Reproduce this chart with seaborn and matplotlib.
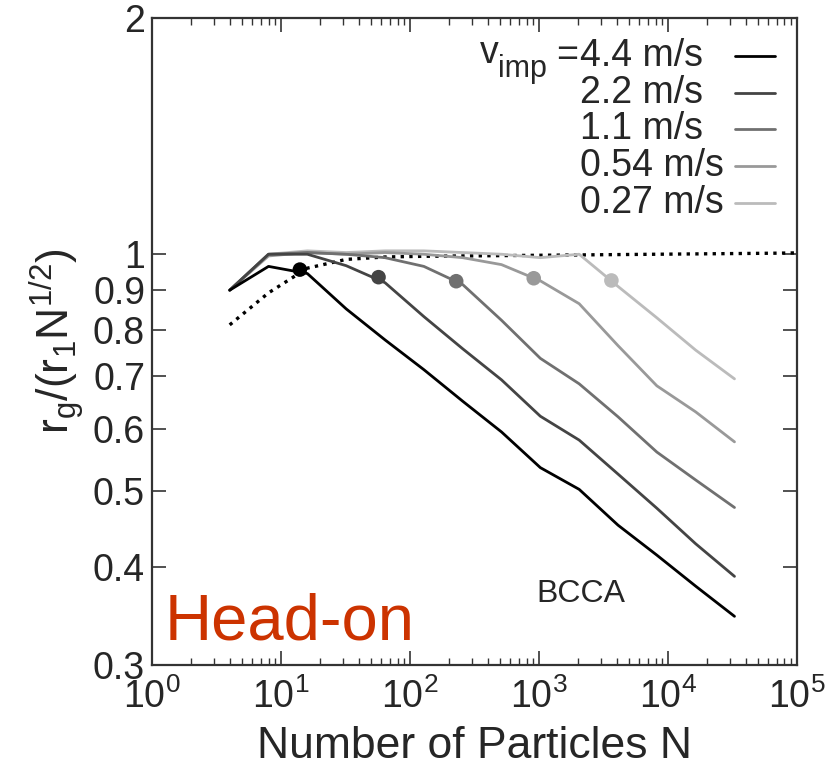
import numpy as np
import pandas as pd
import matplotlib
matplotlib.use('Agg')
import matplotlib.pyplot as plt
import matplotlib.ticker as mticker
import seaborn as sns

# number of particles in the aggregates
n_particles = [4, 8, 16, 32, 64, 128, 256, 512, 1024, 2048, 4096, 8192, 16384, 32768]

# r_g / (r_1 N^1/2) for each impact velocity
ratio_44 = [0.90, 0.965, 0.945, 0.852, 0.778, 0.713, 0.650, 0.594, 0.535, 0.502, 0.452, 0.414, 0.378, 0.346]
ratio_22 = [0.90, 1.00, 1.00, 0.967, 0.92, 0.833, 0.758, 0.692, 0.622, 0.580, 0.525, 0.475, 0.428, 0.389]
ratio_11 = [0.90, 1.00, 1.005, 1.00, 0.99, 0.965, 0.915, 0.824, 0.737, 0.684, 0.621, 0.560, 0.516, 0.476]
ratio_054 = [0.90, 0.995, 1.005, 1.00, 1.005, 1.00, 0.99, 0.97, 0.925, 0.865, 0.765, 0.680, 0.630, 0.577]
ratio_027 = [0.90, 1.00, 1.01, 1.005, 1.01, 1.01, 1.005, 1.00, 0.99, 1.00, 0.91, 0.83, 0.755, 0.694]

velocity_labels = ['4.4 m/s', '2.2 m/s', '1.1 m/s', '0.54 m/s', '0.27 m/s']
line_colors = ['#000000', '#444444', '#707070', '#999999', '#bbbbbb']

# BCCA reference (dotted)
bcca_n = [4, 8, 16, 32, 64, 128, 256, 512, 1024, 2048, 4096, 8192, 16384, 32768, 65536, 100000]
bcca_ratio = [0.813, 0.893, 0.96, 0.985, 0.992, 0.994, 0.995, 0.996, 0.997, 0.998, 0.999, 1.0, 1.001, 1.002, 1.003, 1.004]

# critical points (dots)
crit_n = [14, 57, 228, 910, 3640]
crit_ratio = [0.956, 0.935, 0.924, 0.932, 0.926]

all_ratios = [ratio_44, ratio_22, ratio_11, ratio_054, ratio_027]
df = pd.concat([pd.DataFrame({'N': n_particles, 'ratio': r, 'v': lab})
                for r, lab in zip(all_ratios, velocity_labels)])
crit_df = pd.DataFrame({'N': crit_n, 'ratio': crit_ratio, 'v': velocity_labels})
bcca_df = pd.DataFrame({'N': bcca_n, 'ratio': bcca_ratio})

sns.set_style('ticks')
plt.rcParams['font.family'] = ['Liberation Sans', 'DejaVu Sans']
plt.rcParams['mathtext.default'] = 'regular'

fig = plt.figure(figsize=(8.29, 7.72), dpi=100)
ax = fig.add_axes([0.1834, 0.1386, 0.778, 0.8384])

palette = dict(zip(velocity_labels, line_colors))
sns.lineplot(data=bcca_df, x='N', y='ratio', color='black', linewidth=2.4,
             linestyle=(0, (1, 1.6)), ax=ax, estimator=None, sort=False)
sns.lineplot(data=df, x='N', y='ratio', hue='v', hue_order=velocity_labels[::-1],
             palette=palette, linewidth=2.0, ax=ax, legend=False, estimator=None, sort=False)
sns.scatterplot(data=crit_df, x='N', y='ratio', hue='v', palette=palette, s=110,
                edgecolor='none', ax=ax, legend=False, zorder=5)

ax.set_xscale('log')
ax.set_yscale('log')
ax.set_xlim(1, 1e5)
ax.set_ylim(0.3, 2)

ax.xaxis.set_major_locator(mticker.LogLocator(base=10, numticks=10))
ax.xaxis.set_minor_locator(mticker.LogLocator(base=10, subs=np.arange(2, 10), numticks=20))
ax.xaxis.set_minor_formatter(mticker.NullFormatter())
yticks = [0.3, 0.4, 0.5, 0.6, 0.7, 0.8, 0.9, 1, 2]
ax.yaxis.set_major_locator(mticker.FixedLocator(yticks))
ax.yaxis.set_major_formatter(mticker.FixedFormatter(['0.3', '0.4', '0.5', '0.6', '0.7', '0.8', '0.9', '1', '2']))
ax.yaxis.set_minor_locator(mticker.NullLocator())

ax.tick_params(which='both', direction='in', top=True, right=True, labelsize=27, color='#333333')
ax.tick_params(which='major', length=10, width=1.2)
ax.tick_params(axis='x', which='major', pad=10)
ax.tick_params(axis='y', which='major', pad=5)
ax.tick_params(which='minor', length=5, width=1.0)
for sp in ax.spines.values():
    sp.set_linewidth(1.6)
    sp.set_color('#333333')

ax.set_xlabel('Number of Particles N', fontsize=32, labelpad=7)
ax.set_ylabel('r$_g$/(r$_1$N$^{1/2}$)', fontsize=32, labelpad=4)

# key in gnuplot style: labels left-aligned, line samples in a fixed column on the right
key_x, key_y, key_step = 0.664, 0.941, 0.0568
for i, (lab, c) in enumerate(zip(velocity_labels, line_colors)):
    yk = key_y - i * key_step
    ax.text(key_x, yk, lab, transform=ax.transAxes, fontsize=27, ha='left', va='center')
    ax.plot([0.904, 0.966], [yk, yk], transform=ax.transAxes, color=c, linewidth=2.0)
ax.text(key_x - 0.003, key_y, '=', transform=ax.transAxes, fontsize=27, ha='right', va='center')
ax.text(key_x - 0.052, key_y - 0.02, 'imp', transform=ax.transAxes, fontsize=22, ha='right', va='center')
ax.text(key_x - 0.126, key_y + 0.004, 'v', transform=ax.transAxes, fontsize=27, ha='right', va='center')

ax.text(0.596, 0.11, 'BCCA', transform=ax.transAxes, fontsize=23, ha='left', va='center')
ax.text(0.02, 0.065, 'Head-on', transform=ax.transAxes, fontsize=47, color='#cc3300',
        ha='left', va='center')

fig.savefig('out.png', dpi=100)
